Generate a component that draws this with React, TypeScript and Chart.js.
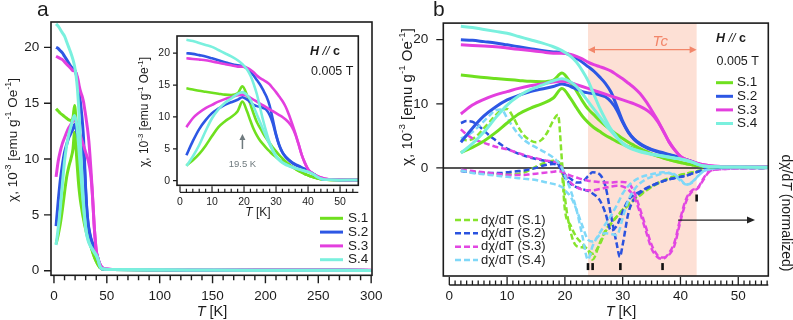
import React, { useEffect, useRef } from 'react';
import { Chart, registerables } from 'chart.js';

Chart.register(...registerables);

const W = 793;
const H = 320;
const FONT = "'Liberation Sans', Arial, Helvetica, sans-serif";
const INK = '#1c1c1c';

// ---------------- data ----------------
const T_SOLID = [2, 4, 6, 8, 10, 12, 14, 16, 18, 19.5, 21, 22, 23, 24, 25, 26, 27, 28, 29, 30, 31, 32, 33, 34, 35, 36, 37, 38, 39, 40, 41, 42, 43, 44, 45, 47, 50, 55, 100, 150, 200, 250, 300];

const S1_FC = [14.5, 14.3, 14.1, 13.95, 13.8, 13.65, 13.5, 13.45, 13.7, 14.8, 13.3, 12.0, 10.5, 9.2, 8.3, 7.4, 6.6, 5.9, 5.2, 4.6, 4.0, 3.5, 3.0, 2.6, 2.2, 1.9, 1.6, 1.3, 1.05, 0.85, 0.65, 0.5, 0.35, 0.25, 0.18, 0.12, 0.1, 0.1, 0.08, 0.06, 0.05, 0.04, 0.03];
const S1_ZFC = [2.4, 3.2, 4.2, 5.5, 7.0, 8.4, 9.3, 10.0, 10.9, 12.4, 10.8, 9.4, 8.1, 7.1, 6.3, 5.7, 5.1, 4.6, 4.1, 3.7, 3.3, 3.0, 2.7, 2.45, 2.15, 1.85, 1.55, 1.3, 1.05, 0.85, 0.65, 0.5, 0.35, 0.25, 0.18, 0.12, 0.1, 0.1, 0.08, 0.06, 0.05, 0.04, 0.03];
const S2_FC = [20.0, 19.9, 19.7, 19.5, 19.2, 18.9, 18.6, 18.3, 18.1, 18.0, 17.6, 17.1, 16.5, 15.8, 15.1, 14.2, 13.2, 11.8, 9.6, 7.3, 5.6, 4.5, 3.8, 3.3, 2.9, 2.6, 2.35, 2.1, 1.85, 1.6, 1.3, 1.0, 0.65, 0.35, 0.2, 0.15, 0.12, 0.1, 0.08, 0.06, 0.05, 0.04, 0.03];
const S2_ZFC = [4.0, 6.2, 8.1, 9.5, 10.6, 11.3, 11.9, 12.3, 12.7, 13.1, 12.7, 12.3, 11.9, 11.7, 11.6, 11.4, 11.1, 10.3, 9.0, 7.1, 5.5, 4.4, 3.7, 3.2, 2.8, 2.5, 2.25, 2.0, 1.8, 1.55, 1.25, 0.95, 0.6, 0.35, 0.2, 0.15, 0.12, 0.1, 0.08, 0.06, 0.05, 0.04, 0.03];
const S3_FC = [19.2, 19.1, 19.0, 18.9, 18.7, 18.5, 18.3, 18.1, 17.9, 17.9, 17.7, 17.4, 17.0, 16.5, 16.1, 15.8, 15.5, 15.1, 14.5, 13.9, 13.2, 12.5, 11.6, 10.4, 9.0, 7.5, 5.8, 4.1, 2.8, 1.8, 1.3, 0.95, 0.7, 0.5, 0.35, 0.2, 0.15, 0.12, 0.1, 0.08, 0.07, 0.06, 0.05];
const S3_ZFC = [8.4, 9.8, 10.7, 11.4, 11.9, 12.4, 12.8, 13.1, 13.4, 13.5, 13.3, 13.0, 12.7, 12.4, 12.1, 11.8, 11.5, 11.2, 10.9, 10.6, 10.3, 10.0, 9.6, 9.1, 8.4, 7.3, 5.8, 4.1, 2.8, 1.8, 1.3, 0.95, 0.7, 0.5, 0.35, 0.2, 0.15, 0.12, 0.1, 0.08, 0.07, 0.06, 0.05];
const S4_FC = [22.1, 21.9, 21.6, 21.3, 21.0, 20.5, 20.0, 19.5, 18.9, 18.3, 17.4, 16.5, 15.2, 13.6, 11.5, 9.4, 7.6, 6.0, 4.8, 3.8, 3.2, 2.8, 2.5, 2.3, 2.1, 1.95, 1.8, 1.65, 1.5, 1.35, 1.15, 0.9, 0.55, 0.3, 0.2, 0.15, 0.12, 0.1, 0.08, 0.06, 0.05, 0.04, 0.03];
const S4_ZFC = [2.3, 3.8, 5.6, 7.8, 9.8, 11.2, 12.2, 12.9, 13.6, 13.9, 13.4, 12.7, 11.6, 10.4, 9.2, 8.0, 6.8, 5.7, 4.7, 3.9, 3.3, 2.9, 2.6, 2.35, 2.15, 2.0, 1.85, 1.7, 1.55, 1.4, 1.2, 0.9, 0.55, 0.3, 0.2, 0.15, 0.12, 0.1, 0.08, 0.06, 0.05, 0.04, 0.03];

const T_DERIV = [2, 3, 4, 5, 6, 7, 8, 9, 10, 11, 12, 13, 14, 15, 16, 17, 18, 18.8, 19.5, 20, 21, 22, 23, 24, 24.8, 26, 27, 28, 29, 29.5, 30, 31, 32, 33, 34, 35, 36, 36.9, 38, 39, 40, 41, 42, 43, 44, 45, 47, 50, 55];

const D1A = [4.5, 4.3, 4.5, 5.2, 6.2, 7.2, 8.2, 9.0, 9.2, 8.0, 6.3, 5.0, 4.3, 4.0, 4.4, 5.6, 7.4, 8.3, 1.0, -4.5, -10.0, -12.2, -12.4, -12.8, -14.3, -11.8, -9.8, -8.6, -7.6, -7.1, -6.7, -5.8, -5.0, -4.3, -3.6, -3.0, -2.5, -2.1, -1.7, -1.4, -1.1, -0.9, -0.7, -0.5, -0.3, -0.1, 0, 0, 0];
const D1B = [-0.4, -0.5, -0.6, -0.7, -0.8, -0.9, -1.0, -1.0, -1.0, -1.0, -0.9, -0.7, -0.3, 0.2, 0.6, 0.9, 1.1, 1.0, -0.8, -6.5, -9.0, -10.8, -11.8, -12.8, -13.4, -12.0, -10.0, -8.7, -7.6, -7.0, -6.5, -5.6, -4.8, -4.1, -3.5, -2.9, -2.4, -2.0, -1.6, -1.3, -1.1, -0.9, -0.7, -0.5, -0.3, -0.1, 0, 0, 0];
const D2A = [7.0, 7.3, 7.2, 6.6, 5.8, 5.0, 4.3, 3.6, 3.0, 2.6, 2.2, 1.9, 1.6, 1.4, 1.2, 1.0, 0.8, 0.6, -0.3, -1.0, -1.7, -2.3, -2.2, -1.3, -0.7, -1.0, -2.8, -7.5, -12.0, -13.9, -12.0, -7.0, -4.8, -3.9, -3.3, -2.8, -2.4, -2.1, -1.8, -1.6, -1.4, -1.2, -0.9, -0.6, -0.3, -0.1, 0, 0, 0];
const D2B = [-0.5, -0.6, -0.7, -0.8, -0.8, -0.8, -0.8, -0.8, -0.7, -0.6, -0.5, -0.4, -0.2, 0, 0.3, 0.5, 0.6, 0.4, -0.5, -1.5, -2.5, -3.0, -3.3, -3.6, -4.0, -5.0, -7.0, -9.8, -9.0, -8.0, -6.8, -5.0, -4.2, -3.7, -3.2, -2.8, -2.4, -2.1, -1.8, -1.6, -1.4, -1.2, -0.9, -0.6, -0.3, -0.1, 0, 0, 0];
const D3A = [6.0, 5.2, 4.6, 4.2, 3.9, 3.6, 3.3, 3.1, 2.9, 2.6, 2.3, 2.0, 1.7, 1.5, 1.3, 1.1, 1.0, 0.8, 0, -1.0, -2.3, -3.0, -3.4, -3.5, -3.5, -3.3, -3.1, -2.9, -2.8, -2.8, -2.9, -3.4, -4.6, -7.0, -9.8, -12.6, -13.9, -14.2, -13.3, -11.5, -7.8, -4.8, -3.5, -3.1, -1.6, -0.5, -0.2, -0.1, 0];
const D3B = [-0.3, -0.4, -0.5, -0.6, -0.7, -0.8, -0.9, -1.0, -1.1, -1.1, -1.1, -1.1, -1.0, -0.9, -0.8, -0.7, -0.6, -0.5, -0.6, -0.8, -1.2, -1.5, -1.8, -2.0, -2.1, -2.2, -2.3, -2.3, -2.2, -2.2, -2.2, -2.4, -3.8, -6.4, -9.2, -12.0, -13.6, -14.0, -13.6, -12.0, -8.3, -5.2, -3.7, -3.2, -1.8, -0.6, -0.2, -0.1, 0];
const D4A = [4.6, 5.0, 5.6, 6.4, 7.3, 8.2, 9.0, 9.1, 7.8, 6.4, 5.2, 4.3, 3.7, 3.2, 2.7, 2.2, 1.6, 0.9, 0, -1.2, -3.5, -6.5, -10.5, -14.3, -12.2, -10.2, -8.8, -7.4, -5.8, -4.9, -4.0, -2.8, -2.0, -1.5, -1.2, -1.0, -0.8, -0.7, -0.8, -1.2, -2.0, -2.6, -2.2, -1.3, -0.5, -0.2, 0, 0, 0];
const D4B = [-0.4, -0.6, -0.8, -0.9, -1.0, -1.1, -1.2, -1.3, -1.4, -1.5, -1.6, -1.7, -1.8, -1.9, -2.1, -2.3, -2.5, -2.7, -3.0, -3.5, -4.5, -6.5, -9.0, -11.2, -11.5, -10.5, -10.2, -10.3, -10.5, -9.5, -7.8, -5.0, -3.4, -2.4, -1.8, -1.4, -1.1, -0.9, -0.8, -1.0, -1.8, -2.6, -2.3, -1.3, -0.5, -0.2, 0, 0, 0];

const SAMPLES = ['S.1', 'S.2', 'S.3', 'S.4'];
const FC = [S1_FC, S2_FC, S3_FC, S4_FC];
const ZFC = [S1_ZFC, S2_ZFC, S3_ZFC, S4_ZFC];
const DA = [D1A, D2A, D3A, D4A];
const DB = [D1B, D2B, D3B, D4B];
const SOLID_COLORS = ['#6fe01f', '#2d57e4', '#e33fde', '#7af0de'];
const DASH_COLORS = ['#86e42c', '#2a52df', '#e247e2', '#80d8f8'];

const TICKS_A_X = [0, 50, 100, 150, 200, 250, 300];
const TICKS_A_Y = [0, 5, 10, 15, 20];
const TICKS_I_X = [0, 10, 20, 30, 40, 50];
const TICKS_I_Y = [0, 5, 10, 15, 20];
const TICKS_B_X = [0, 10, 20, 30, 40, 50];
const TICKS_B_Y = [0, 10, 20];

const TC_RANGE = [24, 42.8];
const TC_ARROW_CHI = 18.45;
const TC_LABEL_T = 36.5;
const TC_MARKS = [24.0, 24.8, 29.6, 36.9];
const TC_MARK_CHI = -15.4;
const UPPER_MARK = { t: 42.8, chi: -4.7 };
const AXIS_ARROW = { t0: 39.6, t1: 52.9, chi: -8.15 };
const PEAK_T = 19.5;

// ---------------- helpers ----------------
type Seg = { t: string; sup?: boolean; it?: boolean; b?: boolean };

function setFont(ctx: CanvasRenderingContext2D, size: number, it?: boolean, b?: boolean) {
  ctx.font = `${it ? 'italic ' : ''}${b ? 'bold ' : ''}${size}px ${FONT}`;
}

function drawRich(ctx: CanvasRenderingContext2D, segs: Seg[], x: number, y: number, size: number, align: string, color: string, rot = 0) {
  ctx.save();
  ctx.translate(x, y);
  if (rot) ctx.rotate(rot);
  let w = 0;
  for (const s of segs) {
    setFont(ctx, s.sup ? size * 0.66 : size, s.it, s.b);
    w += ctx.measureText(s.t).width;
  }
  let cx = align === 'left' ? 0 : align === 'center' ? -w / 2 : -w;
  ctx.fillStyle = color;
  ctx.textBaseline = 'middle';
  ctx.textAlign = 'left';
  for (const s of segs) {
    const sz = s.sup ? size * 0.66 : size;
    setFont(ctx, sz, s.it, s.b);
    ctx.fillText(s.t, cx, s.sup ? -size * 0.36 : 0);
    cx += ctx.measureText(s.t).width;
  }
  ctx.restore();
}

function arrowHead(ctx: CanvasRenderingContext2D, x: number, y: number, ang: number, len: number, half: number) {
  ctx.save();
  ctx.translate(x, y);
  ctx.rotate(ang);
  ctx.beginPath();
  ctx.moveTo(0, 0);
  ctx.lineTo(-len, -half);
  ctx.lineTo(-len, half);
  ctx.closePath();
  ctx.fill();
  ctx.restore();
}

const CHI_LABEL: Seg[] = [{ t: 'χ, 10' }, { t: '-3', sup: true }, { t: ' [emu g' }, { t: '-1', sup: true }, { t: ' Oe' }, { t: '-1', sup: true }, { t: ']' }];
const T_LABEL: Seg[] = [{ t: 'T', it: true }, { t: ' [K]' }];
const H_LABEL: Seg[] = [{ t: 'H', it: true, b: true }, { t: ' // ', it: true }, { t: 'c', b: true }];

function pts(xs: number[], ys: number[]) {
  return xs.map((x, i) => ({ x, y: ys[i] }));
}

function solidSets(width: number) {
  const out: any[] = [];
  for (let i = 3; i >= 0; i--) {
    for (const arr of [FC[i], ZFC[i]]) {
      out.push({ data: pts(T_SOLID, arr), borderColor: SOLID_COLORS[i], borderWidth: width, pointRadius: 0, cubicInterpolationMode: 'monotone', fill: false });
    }
  }
  return out;
}

function dashSets() {
  const out: any[] = [];
  for (let i = 3; i >= 0; i--) {
    for (const arr of [DA[i], DB[i]]) {
      out.push({ data: pts(T_DERIV, arr), borderColor: DASH_COLORS[i], borderWidth: 2.5, borderDash: [6, 3], pointRadius: 0, cubicInterpolationMode: 'monotone', fill: false });
    }
  }
  return out;
}

function scale(min: number, max: number, ticks: number[], size: number, pad: number, axis: 'x' | 'y') {
  return {
    type: 'linear',
    min,
    max,
    grid: { display: false, drawTicks: false },
    border: { display: false },
    ticks: { font: { size, family: FONT }, color: INK, padding: pad, autoSkip: false, maxRotation: 0, minRotation: 0, callback: (v: any) => String(v) },
    afterBuildTicks: (s: any) => { s.ticks = ticks.map((v) => ({ value: v })); },
    afterFit: (s: any) => { if (axis === 'x') s.height = 30; else s.width = 30; },
  };
}

function area(l: number, t: number, r: number, b: number) {
  return { left: l - 30, top: t, right: W - r, bottom: H - b - 30 };
}

function baseOptions(pad: any, x: any, y: any) {
  return {
    animation: false,
    responsive: false,
    devicePixelRatio: 1,
    events: [],
    layout: { padding: pad },
    plugins: { legend: { display: false }, tooltip: { enabled: false } },
    scales: { x, y },
  };
}

function frame(ctx: CanvasRenderingContext2D, ca: any) {
  ctx.strokeStyle = INK;
  ctx.lineWidth = 1.6;
  ctx.strokeRect(ca.left, ca.top, ca.right - ca.left, ca.bottom - ca.top);
}

// ---------------- panel a ----------------
const plugA = {
  id: 'decorA',
  afterDraw(chart: any) {
    const { ctx, chartArea: ca, scales } = chart;
    const x = scales.x;
    const y = scales.y;
    ctx.save();
    frame(ctx, ca);
    ctx.lineWidth = 1.4;
    ctx.beginPath();
    for (const v of TICKS_A_Y) {
      const py = y.getPixelForValue(v);
      ctx.moveTo(ca.left - 7, py);
      ctx.lineTo(ca.left, py);
    }
    for (let v = 0; v <= 300; v += 10) {
      const px = x.getPixelForValue(v);
      ctx.moveTo(px, ca.bottom);
      ctx.lineTo(px, ca.bottom + (v % 50 === 0 ? 8 : 5));
    }
    ctx.stroke();
    // legend
    SAMPLES.forEach((s, i) => {
      const ly = 218.3 + i * 13.8;
      ctx.strokeStyle = SOLID_COLORS[i];
      ctx.lineWidth = 3;
      ctx.beginPath();
      ctx.moveTo(320, ly);
      ctx.lineTo(343, ly);
      ctx.stroke();
      drawRich(ctx, [{ t: s }], 348, ly, 13.5, 'left', INK);
    });
    drawRich(ctx, CHI_LABEL, 13, 140, 13.5, 'center', INK, -Math.PI / 2);
    drawRich(ctx, T_LABEL, 212, 311.5, 14.5, 'center', INK);
    drawRich(ctx, [{ t: 'a' }], 37, 10, 21, 'left', INK);
    ctx.restore();
  },
};

// ---------------- inset ----------------
const plugI = {
  id: 'decorI',
  beforeDatasetsDraw(chart: any) {
    const { ctx, chartArea: ca } = chart;
    ctx.save();
    ctx.fillStyle = '#ffffff';
    ctx.fillRect(ca.left, ca.top, ca.right - ca.left, ca.bottom - ca.top);
    ctx.restore();
  },
  afterDraw(chart: any) {
    const { ctx, chartArea: ca, scales } = chart;
    const x = scales.x;
    const y = scales.y;
    ctx.save();
    frame(ctx, ca);
    ctx.lineWidth = 1.2;
    ctx.beginPath();
    for (const v of TICKS_I_Y) {
      const py = y.getPixelForValue(v);
      ctx.moveTo(ca.left - 4, py);
      ctx.lineTo(ca.left, py);
    }
    const axY = ca.bottom + 7;
    ctx.moveTo(x.getPixelForValue(0), axY);
    ctx.lineTo(ca.right, axY);
    for (let v = 0; v <= 55; v += 2) {
      const px = x.getPixelForValue(v);
      ctx.moveTo(px, axY);
      ctx.lineTo(px, axY - (v % 10 === 0 ? 6 : 3.5));
    }
    ctx.stroke();
    // 19.5 K arrow
    const px = x.getPixelForValue(PEAK_T);
    ctx.strokeStyle = '#6f7a7e';
    ctx.fillStyle = '#6f7a7e';
    ctx.lineWidth = 1.5;
    ctx.beginPath();
    ctx.moveTo(px, 149);
    ctx.lineTo(px, 139);
    ctx.stroke();
    arrowHead(ctx, px, 134, -Math.PI / 2, 6, 3);
    drawRich(ctx, [{ t: '19.5 K' }], px, 164, 9.5, 'center', '#6f7a7e');
    drawRich(ctx, H_LABEL, 310, 52, 12.5, 'left', INK);
    drawRich(ctx, [{ t: '0.005 T' }], 311, 72, 12.5, 'left', INK);
    drawRich(ctx, CHI_LABEL, 145, 112, 12, 'center', INK, -Math.PI / 2);
    drawRich(ctx, T_LABEL, 258, 213, 12, 'center', INK);
    ctx.restore();
  },
};

// ---------------- panel b ----------------
const plugB = {
  id: 'decorB',
  beforeDatasetsDraw(chart: any) {
    const { ctx, chartArea: ca, scales } = chart;
    const x = scales.x;
    const y = scales.y;
    ctx.save();
    const x0 = x.getPixelForValue(TC_RANGE[0]);
    const x1 = x.getPixelForValue(TC_RANGE[1]);
    ctx.fillStyle = '#fde0d5';
    ctx.fillRect(x0, ca.top, x1 - x0, ca.bottom - ca.top);
    const y0 = y.getPixelForValue(0);
    ctx.strokeStyle = INK;
    ctx.lineWidth = 1.5;
    ctx.beginPath();
    ctx.moveTo(ca.left, y0);
    ctx.lineTo(ca.right, y0);
    ctx.stroke();
    ctx.restore();
  },
  afterDraw(chart: any) {
    const { ctx, chartArea: ca, scales } = chart;
    const x = scales.x;
    const y = scales.y;
    ctx.save();
    frame(ctx, ca);
    ctx.lineWidth = 1.3;
    ctx.beginPath();
    for (const v of TICKS_B_Y) {
      const py = y.getPixelForValue(v);
      ctx.moveTo(ca.left - 7, py);
      ctx.lineTo(ca.left, py);
    }
    const axY = ca.bottom + 9;
    ctx.moveTo(x.getPixelForValue(0), axY);
    ctx.lineTo(ca.right, axY);
    for (let v = 0; v <= 55; v += 1) {
      const px = x.getPixelForValue(v);
      ctx.moveTo(px, axY);
      ctx.lineTo(px, axY - (v % 10 === 0 ? 8 : 4.5));
    }
    ctx.stroke();
    // Tc arrow
    const tx0 = x.getPixelForValue(TC_RANGE[0]);
    const tx1 = x.getPixelForValue(TC_RANGE[1]);
    const ty = y.getPixelForValue(TC_ARROW_CHI);
    ctx.strokeStyle = '#f2866a';
    ctx.fillStyle = '#f2866a';
    ctx.lineWidth = 1.4;
    ctx.beginPath();
    ctx.moveTo(tx0 + 4, ty);
    ctx.lineTo(tx1 - 4, ty);
    ctx.stroke();
    arrowHead(ctx, tx1, ty, 0, 7, 3.5);
    arrowHead(ctx, tx0, ty, Math.PI, 7, 3.5);
    drawRich(ctx, [{ t: 'Tc', it: true }], x.getPixelForValue(TC_LABEL_T), 41.5, 15, 'center', '#f2866a');
    // markers
    ctx.fillStyle = '#111';
    for (const t of TC_MARKS) {
      ctx.fillRect(x.getPixelForValue(t) - 1.3, y.getPixelForValue(TC_MARK_CHI) - 3.5, 2.6, 7);
    }
    ctx.fillRect(x.getPixelForValue(UPPER_MARK.t) - 1.3, y.getPixelForValue(UPPER_MARK.chi) - 3.5, 2.6, 7);
    // right arrow
    const ay = y.getPixelForValue(AXIS_ARROW.chi);
    const ax0 = x.getPixelForValue(AXIS_ARROW.t0);
    const ax1 = x.getPixelForValue(AXIS_ARROW.t1);
    ctx.strokeStyle = '#222';
    ctx.fillStyle = '#222';
    ctx.lineWidth = 1.2;
    ctx.beginPath();
    ctx.moveTo(ax0, ay);
    ctx.lineTo(ax1 - 4, ay);
    ctx.stroke();
    arrowHead(ctx, ax1, ay, 0, 8, 3.5);
    // annotations
    drawRich(ctx, H_LABEL, 716, 39, 12.5, 'left', INK);
    drawRich(ctx, [{ t: '0.005 T' }], 716.5, 61.5, 12.5, 'left', INK);
    SAMPLES.forEach((s, i) => {
      const ly = 82.7 + i * 13.6;
      ctx.strokeStyle = SOLID_COLORS[i];
      ctx.lineWidth = 3;
      ctx.setLineDash([]);
      ctx.beginPath();
      ctx.moveTo(716, ly);
      ctx.lineTo(733, ly);
      ctx.stroke();
      drawRich(ctx, [{ t: s }], 737, ly, 13.5, 'left', INK);
    });
    SAMPLES.forEach((s, i) => {
      const ly = 220 + i * 13.35;
      ctx.strokeStyle = DASH_COLORS[i];
      ctx.lineWidth = 2.5;
      ctx.setLineDash([6, 3]);
      ctx.beginPath();
      ctx.moveTo(455, ly);
      ctx.lineTo(478, ly);
      ctx.stroke();
      ctx.setLineDash([]);
      drawRich(ctx, [{ t: `dχ/dT (${s})` }], 481, ly, 13, 'left', INK);
    });
    drawRich(ctx, CHI_LABEL, 408, 97, 15, 'center', INK, -Math.PI / 2);
    drawRich(ctx, [{ t: 'dχ/d' }, { t: 'T', it: true }, { t: ' (normalized)' }], 786, 213, 14, 'center', INK, Math.PI / 2);
    drawRich(ctx, T_LABEL, 621, 311.5, 14.5, 'center', INK);
    drawRich(ctx, [{ t: 'b' }], 433, 10, 21, 'left', INK);
    ctx.restore();
  },
};

function configA(): any {
  return {
    type: 'line',
    data: { datasets: solidSets(3) },
    options: baseOptions(area(51, 22, 372, 275.3), scale(-2.8, 300.8, TICKS_A_X, 13.5, 12.5, 'x'), scale(-0.41, 22.27, TICKS_A_Y, 13.5, 11.7, 'y')),
    plugins: [plugA],
  };
}

function configI(): any {
  return {
    type: 'line',
    data: { datasets: solidSets(2.6) },
    options: baseOptions(area(177, 36, 358.3, 185.3), scale(-0.94, 55.7, TICKS_I_X, 10.5, 10.5, 'x'), scale(-0.72, 22.7, TICKS_I_Y, 10.5, 7, 'y')),
    plugins: [plugI],
  };
}

function configB(): any {
  return {
    type: 'line',
    data: { datasets: [...solidSets(3), ...dashSets()] },
    options: baseOptions(area(443.3, 22.7, 768.3, 276), scale(-1.04, 55.2, TICKS_B_X, 13.5, 11.8, 'x'), scale(-16.87, 22.59, TICKS_B_Y, 13.5, 15, 'y')),
    plugins: [plugB],
  };
}

export default function App() {
  const refA = useRef<HTMLCanvasElement>(null);
  const refI = useRef<HTMLCanvasElement>(null);
  const refB = useRef<HTMLCanvasElement>(null);
  useEffect(() => {
    const charts = [new Chart(refA.current as HTMLCanvasElement, configA()), new Chart(refI.current as HTMLCanvasElement, configI()), new Chart(refB.current as HTMLCanvasElement, configB())];
    return () => charts.forEach((c) => c.destroy());
  }, []);
  const cs: React.CSSProperties = { position: 'absolute', left: 0, top: 0, width: W, height: H };
  return (
    <div style={{ position: 'fixed', left: 0, top: 0, width: W, height: H, background: '#ffffff', overflow: 'hidden' }}>
      <canvas ref={refA} width={W} height={H} style={cs} />
      <canvas ref={refI} width={W} height={H} style={cs} />
      <canvas ref={refB} width={W} height={H} style={cs} />
    </div>
  );
}
